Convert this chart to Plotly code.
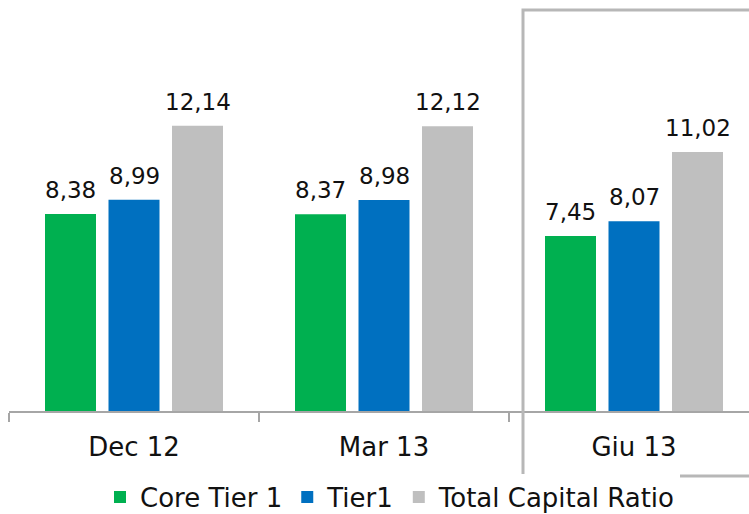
import plotly.graph_objects as go

periods = ["Dec 12", "Mar 13", "Giu 13"]
core_tier1 = [8.38, 8.37, 7.45]
tier1 = [8.99, 8.98, 8.07]
total_capital = [12.14, 12.12, 11.02]

series = [
    ("Core Tier 1", core_tier1, "#00B050"),
    ("Tier1", tier1, "#0070C0"),
    ("Total Capital Ratio", total_capital, "#BFBFBF"),
]

FONT = "DejaVu Sans"
TXT = "#111111"


def fmt(v):
    return f"{v:.2f}".replace(".", ",")


W, H = 749, 514
ml, mr, mt, mb = 9, 0, 10, 103
pw, ph = W - ml - mr, H - mt - mb
cat_w = 250.0
ymax = ph / 23.5
BARGAP = 0.238
GROUPGAP = 0.197
slot = (1 - BARGAP) / len(series)

fig = go.Figure()
annotations = []
for i, (name, vals, color) in enumerate(series):
    fig.add_trace(go.Bar(
        x=periods, y=vals, name=name,
        marker=dict(color=color, line=dict(width=0)),
    ))
    # value labels above each bar, centred on its slot within the group
    off = (i - (len(series) - 1) / 2) * slot
    for k, v in enumerate(vals):
        annotations.append(dict(
            x=k + off, y=v, xref="x", yref="y",
            text=fmt(v), showarrow=False,
            xanchor="center", yanchor="bottom", yshift=9,
            font=dict(family=FONT, size=23, color=TXT),
        ))


def px_x(p):
    return (p - ml) / pw


def px_y(p):
    return (H - mb - p) / ph


fig.update_layout(
    width=W, height=H,
    margin=dict(l=ml, r=mr, t=mt, b=mb, pad=0, autoexpand=False),
    paper_bgcolor="white", plot_bgcolor="white",
    barmode="group", bargap=BARGAP, bargroupgap=GROUPGAP,
    font=dict(family=FONT, size=26, color=TXT),
    showlegend=True,
    legend=dict(
        orientation="h", x=px_x(390), y=px_y(497),
        xanchor="center", yanchor="middle",
        font=dict(family=FONT, size=26, color=TXT),
        itemwidth=30, tracegroupgap=0,
    ),
    xaxis=dict(
        type="category",
        range=[-0.5, -0.5 + pw / cat_w],
        showline=True, linecolor="#A6A6A6", linewidth=1.5,
        ticks="outside", tickson="boundaries", ticklen=9,
        tickcolor="#A6A6A6", tickwidth=1.5,
        ticklabelstandoff=12,
        tickfont=dict(family=FONT, size=26, color=TXT),
        showgrid=False, zeroline=False, fixedrange=True,
    ),
    yaxis=dict(
        range=[0, ymax], visible=False, showgrid=False, zeroline=False,
    ),
    annotations=annotations,
    shapes=[dict(
        type="rect", xref="paper", yref="paper",
        x0=px_x(523), x1=px_x(760), y0=px_y(476), y1=px_y(10),
        line=dict(color="#B7B7B7", width=3), fillcolor="rgba(0,0,0,0)",
        layer="above",
    )],
)

fig.write_html("out.html")
